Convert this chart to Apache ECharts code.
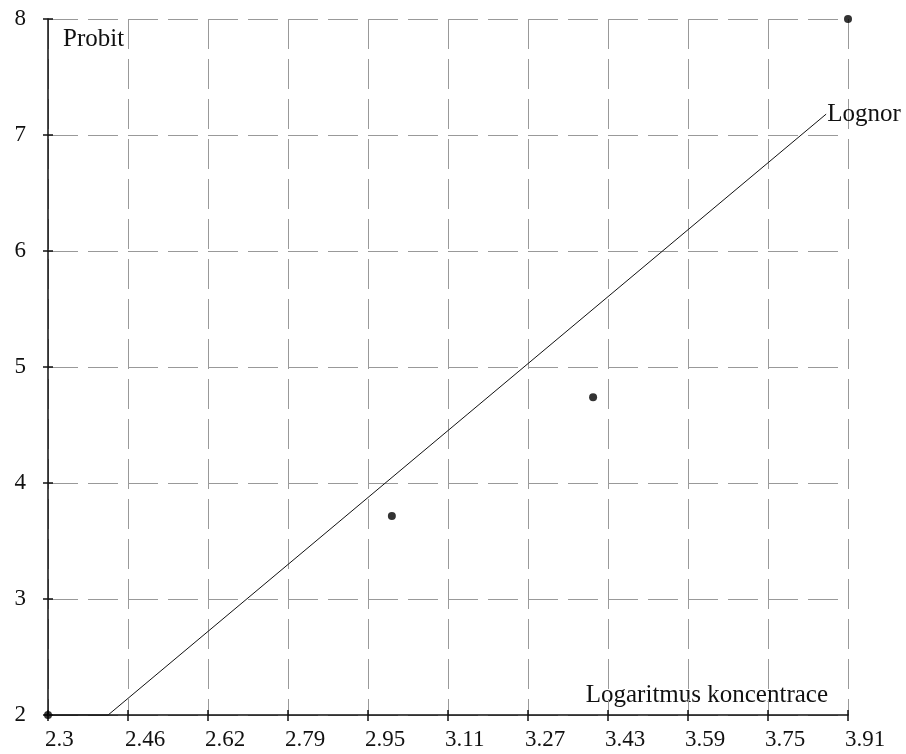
<!DOCTYPE html>
<html>
<head>
<meta charset="utf-8">
<script src="https://cdn.jsdelivr.net/npm/echarts@6/dist/echarts.min.js"></script>
<style>
  html, body { margin: 0; padding: 0; background: #fff; }
  #chart { width: 906px; height: 754px; }
</style>
</head>
<body>
<div id="chart"></div>
<script>
// tick labels of the x axis (log concentration), 10 equal steps
var xTickLabels = ['2.3', '2.46', '2.62', '2.79', '2.95', '3.11', '3.27', '3.43', '3.59', '3.75', '3.91']
var xMin = 2.3
var xMax = 3.91

// measured points
var pointX = [2.3, 2.992, 3.397, 3.91]
var pointY = [2, 3.716, 4.74, 8]

// fitted lognormal line
var fitX = [2.3, 2.421, 3.866]
var fitY = [2, 2, 7.18]

var font = 'Liberation Serif, Times New Roman, serif'
var gridLine = { show: true, lineStyle: { color: '#999', width: 1, type: [30, 10] } }

var chart = echarts.init(document.getElementById('chart'))

chart.setOption({
  backgroundColor: '#fff',
  animation: false,
  grid: { left: 48, right: 58, top: 19, bottom: 39 },
  xAxis: [{
    // data axis, real units
    type: 'value',
    min: xMin,
    max: xMax,
    axisLine: { lineStyle: { color: '#111', width: 1.5 } },
    axisTick: { show: false },
    axisLabel: { show: false },
    splitLine: { show: false }
  }, {
    // tick / grid axis: one step per label
    type: 'value',
    min: 0,
    max: xTickLabels.length - 1,
    interval: 1,
    position: 'bottom',
    axisLine: { show: false },
    axisTick: { show: true, length: 6, lineStyle: { color: '#111', width: 1.5 } },
    axisLabel: {
      margin: 13,
      align: 'left',
      color: '#111',
      fontFamily: font,
      fontSize: 23,
      padding: [0, 0, 0, -3],
      formatter: function (v) { return xTickLabels[Math.round(v)] }
    },
    splitLine: gridLine
  }, {
    type: 'value',
    min: 0,
    max: xTickLabels.length - 1,
    interval: 1,
    position: 'bottom',
    axisLine: { show: false },
    axisTick: { show: true, inside: true, length: 5, lineStyle: { color: '#111', width: 1.5 } },
    axisLabel: { show: false },
    splitLine: { show: false }
  }],
  yAxis: [{
    type: 'value',
    min: 2,
    max: 8,
    interval: 1,
    axisLine: { show: true, lineStyle: { color: '#111', width: 1.5 } },
    axisTick: { show: true, length: 5, lineStyle: { color: '#111', width: 1.5 } },
    axisLabel: { margin: 22, color: '#111', fontFamily: font, fontSize: 23 },
    splitLine: gridLine
  }, {
    type: 'value',
    min: 2,
    max: 8,
    interval: 1,
    position: 'left',
    axisLine: { show: false },
    axisTick: { show: true, inside: true, length: 5, lineStyle: { color: '#111', width: 1.5 } },
    axisLabel: { show: false },
    splitLine: { show: false }
  }],
  graphic: [{
    type: 'text',
    left: 63,
    top: 27,
    style: { text: 'Probit', fill: '#111', font: '25px ' + font }
  }, {
    type: 'text',
    right: 78,
    top: 683,
    style: { text: 'Logaritmus koncentrace', fill: '#111', font: '25px ' + font }
  }],
  series: [{
    name: 'Lognor',
    type: 'line',
    xAxisIndex: 0,
    yAxisIndex: 0,
    showSymbol: false,
    clip: false,
    lineStyle: { color: '#111', width: 1 },
    endLabel: {
      show: true,
      formatter: 'Lognor',
      distance: 1,
      color: '#111',
      fontFamily: font,
      fontSize: 25
    },
    data: fitX.map(function (x, i) { return [x, fitY[i]] })
  }, {
    type: 'scatter',
    xAxisIndex: 0,
    yAxisIndex: 0,
    symbol: 'circle',
    symbolSize: 8,
    clip: false,
    itemStyle: { color: '#000' },
    data: pointX.map(function (x, i) { return [x, pointY[i]] })
  }]
})
</script>
</body>
</html>
